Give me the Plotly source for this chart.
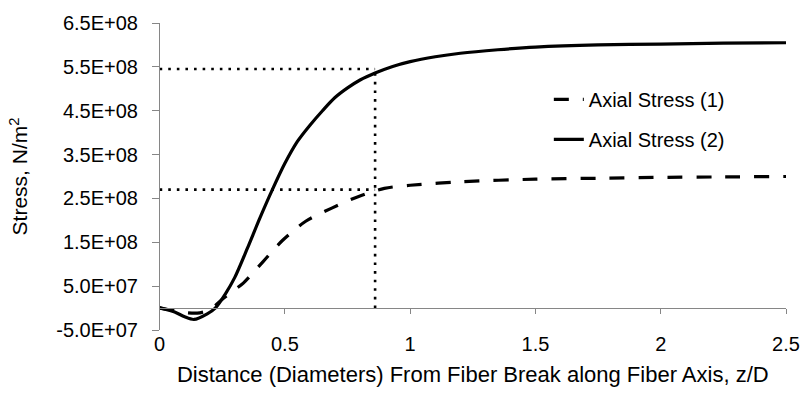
import plotly.graph_objects as go

# Axial stress profiles along the fibre, distance in fibre diameters
z_2 = [0.0, 0.06, 0.1, 0.137, 0.19, 0.222, 0.262, 0.3, 0.35, 0.4, 0.45,
       0.5, 0.55, 0.6, 0.65, 0.7, 0.75, 0.8, 0.86, 0.93, 1.0, 1.1, 1.2, 1.35,
       1.5, 1.75, 2.0, 2.25, 2.5]
stress_2 = [0.1e7, -0.9e7, -2.0e7, -2.6e7, -1.3e7, 0.0, 0.32e8, 0.7e8,
            1.36e8, 2.05e8, 2.7e8, 3.3e8, 3.8e8, 4.17e8, 4.5e8, 4.8e8,
            5.02e8, 5.2e8, 5.36e8, 5.51e8, 5.62e8, 5.73e8, 5.81e8, 5.89e8,
            5.95e8, 6.0e8, 6.02e8, 6.04e8, 6.05e8]

z_1 = [0.0, 0.05, 0.1, 0.15, 0.2, 0.25, 0.3, 0.334, 0.413, 0.49, 0.583,
       0.687, 0.792, 0.897, 1.0, 1.2, 1.5, 1.75, 2.0, 2.25, 2.5]
stress_1 = [0.0, -0.5e7, -1.0e7, -1.15e7, -0.4e7, 0.2e8, 0.42e8, 0.57e8,
            1.06e8, 1.54e8, 1.98e8, 2.28e8, 2.54e8, 2.73e8, 2.8e8, 2.88e8,
            2.94e8, 2.96e8, 2.98e8, 2.99e8, 3.0e8]

# Reference read-off at z/D = 0.86
z_ref = 0.86
s_ref_2 = 5.45e8
s_ref_1 = 2.7e8

y_ticks = [-5e7, 5e7, 1.5e8, 2.5e8, 3.5e8, 4.5e8, 5.5e8, 6.5e8]
y_tick_text = ["-5.0E+07", "5.0E+07", "1.5E+08", "2.5E+08", "3.5E+08",
               "4.5E+08", "5.5E+08", "6.5E+08"]
x_ticks = [0, 0.5, 1, 1.5, 2, 2.5]
x_tick_text = ["0", "0.5", "1", "1.5", "2", "2.5"]

Y_MIN, Y_MAX = -5e7, 6.5e8
X_MIN, X_MAX = 0, 2.5
FONT = "Liberation Sans, Arial, sans-serif"
AXIS_GREY = "#868686"
dotted = dict(color="black", width=2.6, dash="2.6px,6px")

# Layout geometry: the y tick labels sit on a free axis a little left of the
# axis line, which leaves a gap between the tick marks and the labels.
W, H = 812, 395
M_L, M_R, M_T, M_B = 138, 15, 15, 65
LABEL_GAP = 22
x_start = LABEL_GAP / (W - M_L - M_R)

fig = go.Figure()

fig.add_trace(go.Scatter(
    x=z_1, y=stress_1, mode="lines", name="Axial Stress (1)",
    line=dict(color="black", width=3.2, dash="15px,14px", shape="spline",
              smoothing=0.8),
    legendgroup="a",
))
fig.add_trace(go.Scatter(
    x=z_2, y=stress_2, mode="lines", name="Axial Stress (2)",
    line=dict(color="black", width=3.2, shape="spline", smoothing=0.8),
    legendgroup="b",
))

# Dotted guide lines, drawn on the overlay axes (axis lines + tick marks)
fig.add_trace(go.Scatter(x=[0, z_ref], y=[s_ref_2, s_ref_2], mode="lines",
                         line=dotted, showlegend=False, xaxis="x2", yaxis="y2"))
fig.add_trace(go.Scatter(x=[0, z_ref], y=[s_ref_1, s_ref_1], mode="lines",
                         line=dotted, showlegend=False, xaxis="x2", yaxis="y2"))
fig.add_trace(go.Scatter(x=[z_ref, z_ref], y=[0, s_ref_2], mode="lines",
                         line=dotted, showlegend=False, xaxis="x2", yaxis="y2"))

fig.update_layout(
    width=W, height=H,
    margin=dict(l=M_L, r=M_R, t=M_T, b=M_B),
    paper_bgcolor="white", plot_bgcolor="white",
    font=dict(family=FONT, size=20, color="black"),
    xaxis=dict(
        domain=[x_start, 1], range=[X_MIN, X_MAX],
        tickvals=x_ticks, ticktext=x_tick_text,
        showline=False, showgrid=False, zeroline=False, ticks="",
        tickfont=dict(size=20),
        title=dict(text="Distance (Diameters) From Fiber Break along Fiber Axis, z/D",
                   standoff=12, font=dict(size=22)),
    ),
    xaxis2=dict(
        domain=[x_start, 1], range=[X_MIN, X_MAX], overlaying="x",
        anchor="free", position=(0 - Y_MIN) / (Y_MAX - Y_MIN), side="bottom",
        tickvals=x_ticks, showticklabels=False, ticks="outside", ticklen=5,
        tickcolor=AXIS_GREY, showline=True, linecolor=AXIS_GREY, linewidth=1,
        showgrid=False, zeroline=False,
    ),
    yaxis=dict(
        range=[Y_MIN, Y_MAX], anchor="free", position=0,
        tickvals=y_ticks, ticktext=y_tick_text,
        showline=False, ticks="", showgrid=False, zeroline=False,
        tickfont=dict(size=20),
        title=dict(text="Stress, N/m<sup>2</sup>", standoff=21,
                   font=dict(size=21)),
    ),
    yaxis2=dict(
        range=[Y_MIN, Y_MAX], overlaying="y", anchor="x2", side="left",
        tickvals=y_ticks, showticklabels=False, ticks="outside", ticklen=7,
        tickcolor=AXIS_GREY, showline=True, linecolor=AXIS_GREY, linewidth=1,
        showgrid=False, zeroline=False,
    ),
    legend=dict(
        x=0.634, y=0.815, xanchor="left", yanchor="top",
        bgcolor="rgba(0,0,0,0)", borderwidth=0,
        font=dict(family=FONT, size=20), tracegroupgap=11,
        traceorder="grouped",
    ),
)

fig.write_html("out.html")
